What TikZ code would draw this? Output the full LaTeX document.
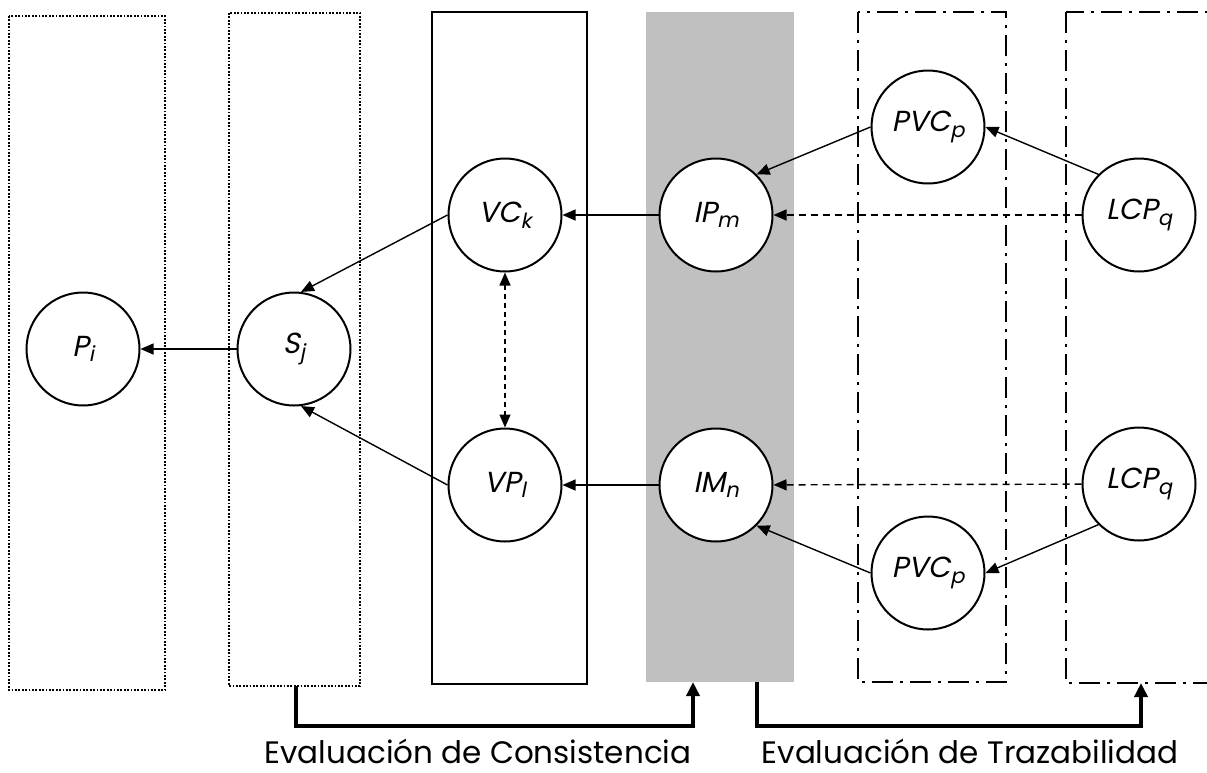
\documentclass[tikz,border=0pt]{standalone}
\usepackage{fontspec}
\setmainfont{Poppins}
\newfontfamily\nodefont[FakeSlant=0.2]{Poppins}
\usetikzlibrary{arrows.meta}
\definecolor{graybox}{RGB}{192,192,192}
\newcommand{\lsub}[1]{\raisebox{-0.35ex}{\scalebox{0.72}{#1}}}
\tikzset{
  every node/.style={inner sep=0pt},
  cnode/.style={circle, draw=black, line width=2pt, fill=white, minimum size=113pt, font=\nodefont\fontsize{29}{32}\selectfont},
  dotbox/.style={draw=black, line width=2pt, dash pattern=on 1.8pt off 1.6pt},
  solidbox/.style={draw=black, line width=2pt},
  graysbox/.style={fill=graybox},
  dashdotbox/.style={draw=black, line width=2pt, dash pattern=on 21pt off 7pt on 3pt off 7pt},
  arr/.style={line width=1.4pt, -{Triangle[length=13pt,width=11pt]}},
  darr/.style={line width=1.4pt, dash pattern=on 7pt off 5pt, -{Triangle[length=13pt,width=11pt]}},
  ddarr/.style={line width=1.4pt, dash pattern=on 5pt off 4pt, {Triangle[length=13pt,width=11pt]}-{Triangle[length=13pt,width=11pt]}},
  brk/.style={line width=3.5pt, -{Triangle[length=14pt,width=13pt]}},
  lbl/.style={font=\fontsize{31}{34}\selectfont, anchor=base}
}
\begin{document}
\begin{tikzpicture}[x=1pt,y=-1pt]
\clip (0,0) rectangle (1207,772);
\useasboundingbox (0,0) rectangle (1207,772);
% column boxes
\draw[dotbox] (9,16) rectangle (165,690);
\draw[dotbox] (229,13) rectangle (360,686);
\draw[solidbox] (432,12) rectangle (587,684);
\fill[graysbox] (646,12) rectangle (794,682);
\draw[dashdotbox] (858,12) rectangle (1006,682);
\draw[dashdotbox] (1066,12) rectangle (1240,683);
% anchor coordinates for the brackets
\coordinate (b2) at (296,686);
\coordinate (g1) at (693,682);
\coordinate (g2) at (757,682);
\coordinate (b6) at (1141,683);
% nodes
\node[cnode] (P) at (83,349) {P\lsub{i}};
\node[cnode] (S) at (294,349) {S\lsub{j}};
\node[cnode] (VC) at (505,215) {VC\lsub{k}};
\node[cnode] (VP) at (505,485) {VP\lsub{l}};
\node[cnode] (IP) at (716,215) {IP\lsub{m}};
\node[cnode] (IM) at (716,485) {IM\lsub{n}};
\node[cnode] (PVC1) at (928,127) {PVC\lsub{p}};
\node[cnode] (LCP1) at (1139,215) {LCP\lsub{q}};
\node[cnode] (LCP2) at (1139,484) {LCP\lsub{q}};
\node[cnode] (PVC2) at (928,573) {PVC\lsub{p}};
% connectors
\draw[arr] (S) -- (P);
\draw[arr] (VC.west) -- (S.83);
\draw[arr] (VP.west) -- (S.-83);
\draw[arr] (IP) -- (VC);
\draw[arr] (IM) -- (VP);
\draw[ddarr] (VC) -- (VP);
\draw[darr] (LCP1) -- (IP);
\draw[darr] (LCP2) -- (IM);
\draw[arr] (LCP1.north west) -- (PVC1.east);
\draw[arr] (PVC1.west) -- (IP.north east);
\draw[arr] (LCP2.south west) -- (PVC2.east);
\draw[arr] (PVC2.west) -- (IM.south east);
% brackets
\draw[brk] (b2) -- (296,726) -| (g1);
\draw[brk] (g2) -- (757,726) -| (b6);
\node[lbl] (t1) at (478,763) {Evaluación de Consistencia};
\node[lbl] (t2) at (970,763) {Evaluación de Trazabilidad};
\end{tikzpicture}
\end{document}
